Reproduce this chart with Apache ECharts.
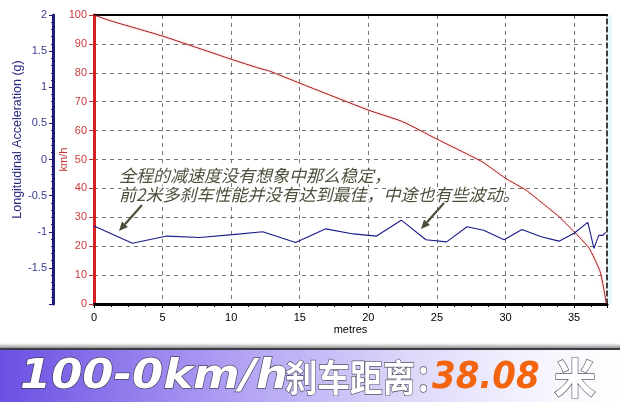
<!DOCTYPE html>
<html>
<head>
<meta charset="utf-8">
<script src="https://cdn.jsdelivr.net/npm/echarts@6/dist/echarts.min.js"></script>
<style>html,body{margin:0;padding:0;background:#fff}#c{width:620px;height:402px}</style>
</head>
<body>
<div id="c"></div>
<script>
// distance (m) vs speed (km/h)
const speedDist = [0, 1.2, 5, 10, 12.1, 12.8, 15, 20, 22.5, 24.9, 28.3, 30, 31.5, 32.4, 33.9, 35, 36.1, 36.9, 37.25, 37.35];
const speedVal  = [100, 98, 92.7, 84.7, 81.5, 80.6, 76.4, 67.1, 63.1, 57.3, 49.2, 43.5, 39.4, 36, 30.2, 25, 19.3, 11.2, 3, 0];
// distance (m) vs longitudinal acceleration (g)
const accDist = [0, 2.8, 5.3, 7.7, 10.1, 12.3, 14.7, 16.9, 18.9, 20.6, 22.4, 24.2, 25.7, 27.2, 28.4, 29.9, 31.2, 32.6, 33.9, 35.0, 36.0, 36.45, 36.8, 37.1, 37.3];
const accVal  = [-0.92, -1.16, -1.06, -1.08, -1.04, -1.0, -1.15, -0.96, -1.03, -1.06, -0.84, -1.11, -1.14, -0.93, -0.98, -1.11, -0.97, -1.07, -1.13, -1.02, -0.87, -1.23, -1.05, -1.05, -1.01];
const xTicks = [0, 5, 10, 15, 20, 25, 30, 35];
const gTicks = [-1.5, -1, -0.5, 0, 0.5, 1, 1.5, 2];
const noteLines = ['全程的减速度没有想象中那么稳定，', '前2米多刹车性能并没有达到最佳，中途也有些波动。'];
const bannerParts = ['100-0km/h', '刹车距离：', '38.08', '米'];

const chart = echarts.init(document.getElementById('c'));
const latin = 'Liberation Sans';
const noteColor = '#4e4e3c';
function arrow(x1, y1, x2, y2) {
  const ang = Math.atan2(y2 - y1, x2 - x1);
  const L = 9, W = 4;
  const bx = x2 - L * Math.cos(ang), by = y2 - L * Math.sin(ang);
  const px = -Math.sin(ang) * W, py = Math.cos(ang) * W;
  return [
    {type: 'line', shape: {x1: x1, y1: y1, x2: bx, y2: by}, style: {stroke: noteColor, lineWidth: 2.2}, z: 100},
    {type: 'polygon', shape: {points: [[x2, y2], [bx + px, by + py], [bx - px, by - py]]}, style: {fill: noteColor}, z: 100}
  ];
}
const shadowWhite = {fill: '#ffffff', stroke: 'rgba(50,50,60,0.8)', lineWidth: 1.3, shadowColor: 'rgba(0,0,0,0.9)', shadowBlur: 2, shadowOffsetX: 2, shadowOffsetY: 3};
chart.setOption({
  animation: false,
  backgroundColor: '#ffffff',
  grid: {left: 94, right: 13, top: 15, bottom: 98, containLabel: false, outerBoundsMode: 'none'},
  xAxis: [{
    type: 'value', min: 0, max: 37.4, interval: 5,
    name: 'metres', nameLocation: 'middle', nameGap: 20, nameMoveOverlap: false,
    nameTextStyle: {fontFamily: latin, fontSize: 11, color: '#000'},
    axisLine: {show: true, onZero: false, lineStyle: {color: '#000', width: 3}},
    axisTick: {show: true, length: 4, lineStyle: {color: '#000'}},
    minorTick: {show: true, splitNumber: 4, length: 3, lineStyle: {color: '#000'}},
    axisLabel: {fontFamily: latin, fontSize: 11, color: '#000', margin: 8,
      formatter: v => xTicks.indexOf(v) >= 0 ? String(v) : ''},
    splitLine: {show: true, showMinLine: false, showMaxLine: false, lineStyle: {color: '#777', type: [4, 4], width: 1}}
  }, {
    type: 'value', min: 0, max: 37.4, position: 'top',
    axisLine: {show: true, onZero: false, lineStyle: {color: '#000', width: 2}},
    axisTick: {show: false}, axisLabel: {show: false}, splitLine: {show: false}
  }],
  yAxis: [{
    type: 'value', min: 0, max: 100, interval: 10, position: 'left',
    name: 'km/h', nameLocation: 'middle', nameGap: 25, nameMoveOverlap: false,
    nameTextStyle: {fontFamily: latin, fontSize: 11, color: '#c03030'},
    axisLine: {show: true, onZero: false, lineStyle: {color: '#d42020', width: 3}},
    axisTick: {show: true, length: 5, lineStyle: {color: '#c03030'}},
    axisLabel: {fontFamily: latin, fontSize: 11, color: '#c83a3a', margin: 7},
    splitLine: {show: true, showMinLine: false, showMaxLine: false, lineStyle: {color: '#777', type: [4, 4], width: 1}}
  }, {
    type: 'value', min: -2, max: 2, interval: 0.5, position: 'left', offset: 41,
    name: 'Longitudinal Acceleration (g)', nameLocation: 'middle', nameGap: 29, nameMoveOverlap: false,
    nameTextStyle: {fontFamily: latin, fontSize: 12.5, color: '#2a2a80', padding: [0, 0, 0, 40]},
    axisLine: {show: true, onZero: false, lineStyle: {color: '#1c1c78', width: 3}},
    axisTick: {show: true, length: 4, lineStyle: {color: '#1c1c78'}},
    minorTick: {show: true, splitNumber: 5, length: 2, lineStyle: {color: '#1c1c78'}},
    axisLabel: {fontFamily: latin, fontSize: 11, color: '#3a3a8c', margin: 6,
      formatter: v => gTicks.indexOf(v) >= 0 ? String(v) : ''},
    splitLine: {show: false}
  }, {
    type: 'value', min: 0, max: 100, position: 'right',
    axisLine: {show: true, onZero: false, lineStyle: {color: '#000', width: 1.5, type: [5, 3]}},
    axisTick: {show: false}, axisLabel: {show: false}, splitLine: {show: false}
  }],
  series: [{
    type: 'line', yAxisIndex: 0, showSymbol: false, symbol: 'none', smooth: 0.15,
    data: speedDist.map((d, i) => [d, speedVal[i]]),
    lineStyle: {color: '#a01818', width: 1, shadowColor: 'rgba(255,130,130,0.6)', shadowBlur: 3},
    z: 5
  }, {
    type: 'line', yAxisIndex: 1, showSymbol: false, symbol: 'none',
    data: accDist.map((d, i) => [d, accVal[i]]),
    lineStyle: {color: '#1a1a8a', width: 1.1},
    z: 6
  }],
  graphic: [
    {type: 'rect', shape: {x: 608, y: 15, width: 4, height: 289}, style: {fill: 'rgba(210,244,252,0.6)'}, z: -1},
    {type: 'text', x: 119, y: 176, z: 100, style: {text: noteLines[0], fontFamily: 'Noto Sans CJK SC', fontSize: 17, fontStyle: 'italic', fill: noteColor, stroke: '#ffffff', lineWidth: 3, textVerticalAlign: 'middle'}},
    {type: 'text', x: 119, y: 195, z: 100, style: {text: noteLines[1], fontFamily: 'Noto Sans CJK SC', fontSize: 17, fontStyle: 'italic', fill: noteColor, stroke: '#ffffff', lineWidth: 3, textVerticalAlign: 'middle'}},
    ...arrow(142, 205, 119, 231),
    ...arrow(444, 203, 421, 229),
    {type: 'rect', shape: {x: 0, y: 343, width: 620, height: 6}, style: {fill: new echarts.graphic.LinearGradient(0, 0, 0, 1, [{offset: 0, color: 'rgba(120,120,120,0)'}, {offset: 1, color: 'rgba(90,90,90,0.8)'}])}, z: 90},
    {type: 'rect', shape: {x: 0, y: 348, width: 620, height: 2}, style: {fill: '#3c3c44'}, z: 91},
    {type: 'rect', shape: {x: 0, y: 350, width: 620, height: 52}, style: {fill: new echarts.graphic.LinearGradient(0, 0, 1, 0, [
      {offset: 0, color: '#6a4fe2'}, {offset: 0.33, color: '#a996f2'}, {offset: 0.65, color: '#dcd6fa'}, {offset: 0.85, color: '#f4f2fd'}, {offset: 1, color: '#ffffff'}])}, z: 90},
    {type: 'text', x: 20, y: 378, scaleX: 1.12, z: 95, style: Object.assign({text: bannerParts[0], fontFamily: 'DejaVu Sans', fontWeight: 'bold', fontStyle: 'italic', fontSize: 40, textVerticalAlign: 'middle'}, shadowWhite)},
    {type: 'text', x: 285, y: 378, scaleX: 0.88, z: 95, style: Object.assign({text: bannerParts[1], fontFamily: 'Noto Sans CJK SC', fontWeight: 'bold', fontSize: 37, textVerticalAlign: 'middle'}, shadowWhite)},
    {type: 'text', x: 432, y: 378, scaleX: 0.92, z: 95, style: {text: bannerParts[2], fontFamily: 'DejaVu Sans', fontWeight: 'bold', fontStyle: 'italic', fontSize: 37, textVerticalAlign: 'middle', fill: '#f2650e', shadowColor: 'rgba(0,0,0,0.35)', shadowBlur: 2, shadowOffsetX: 1, shadowOffsetY: 1}},
    {type: 'text', x: 554, y: 378, z: 95, style: Object.assign({text: bannerParts[3], fontFamily: 'Noto Sans CJK SC', fontWeight: 'bold', fontSize: 42, textVerticalAlign: 'middle'}, shadowWhite)}
  ]
});
</script>
</body>
</html>
